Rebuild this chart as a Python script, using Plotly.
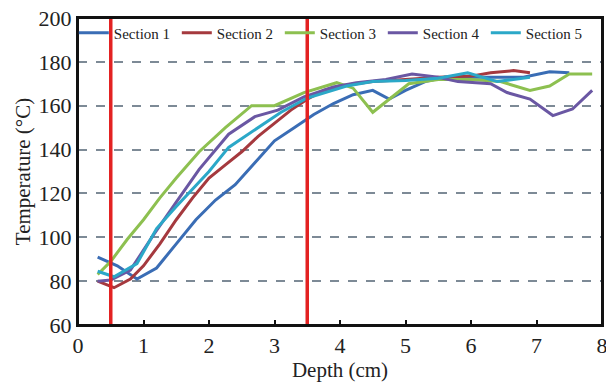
import plotly.graph_objects as go

# Data
x1 = [0.3, 0.6, 0.9, 1.2, 1.5, 1.8, 2.1, 2.4, 2.7, 3.0, 3.3, 3.6, 3.9, 4.2, 4.5, 4.75, 5.0, 5.3, 5.6, 6.0, 6.4, 6.8, 7.2, 7.5]
t1 = [91, 87, 81, 86, 97, 108, 117, 124, 134, 144, 150, 156, 161, 165, 167, 163, 167, 171, 173, 173, 173, 173, 175.5, 175]

x2 = [0.3, 0.55, 0.8, 1.0, 1.25, 1.5, 1.75, 2.0, 2.25, 2.5, 2.75, 3.0, 3.25, 3.5, 3.75, 4.0, 4.5, 5.0, 5.5, 6.0, 6.3, 6.65, 6.9]
t2 = [80, 77, 81, 87, 97, 108, 118, 127, 133, 139, 146, 152, 158, 163, 167, 169, 171, 172, 173, 173.5, 175, 176, 175]

x3 = [0.3, 0.5, 0.75, 1.0, 1.25, 1.5, 1.85, 2.25, 2.65, 3.0, 3.45, 3.95, 4.2, 4.5, 5.05, 5.5, 6.0, 6.45, 6.9, 7.2, 7.5, 7.85]
t3 = [83, 89, 99, 108, 118, 127, 139, 150, 160, 160, 166, 170.5, 168, 157, 170, 172, 172, 171, 167, 169, 174.5, 174.5]

x4 = [0.3, 0.5, 0.8, 1.15, 1.5, 1.85, 2.3, 2.7, 3.05, 3.45, 3.9, 4.25, 4.7, 5.1, 5.5, 5.8, 6.3, 6.55, 6.9, 7.25, 7.55, 7.85]
t4 = [80, 80.5, 85, 101, 116, 131, 147, 155, 158, 164, 168.5, 170.5, 172, 174.5, 173, 171, 170, 166, 163, 155.5, 158.5, 167]

x5 = [0.3, 0.55, 0.9, 1.2, 1.5, 1.75, 2.0, 2.3, 2.7, 3.1, 3.5, 4.1, 4.5, 5.0, 5.5, 5.95, 6.4, 6.9]
t5 = [84.5, 82, 88, 104, 114, 122, 130, 141, 149, 157, 163.5, 169, 171, 171.5, 172.5, 175, 171, 173]

series_names = ["Section 1", "Section 2", "Section 3", "Section 4", "Section 5"]
series_x = [x1, x2, x3, x4, x5]
series_t = [t1, t2, t3, t4, t5]
colors = ["#3a6db5", "#a5393e", "#8dc050", "#6a57a3", "#2ba8c8"]

marker_depths = [0.5, 3.5]

x_ticks = [0, 1, 2, 3, 4, 5, 6, 7, 8]
y_ticks = [60, 80, 100, 120, 140, 160, 180, 200]

fig = go.Figure()
for name, xs, ts, c in zip(series_names, series_x, series_t, colors):
    fig.add_trace(go.Scatter(x=xs, y=ts, mode="lines", name=name,
                             line=dict(color=c, width=3)))

for d in marker_depths:
    fig.add_shape(type="line", xref="x", yref="paper", x0=d, x1=d, y0=0, y1=1,
                  line=dict(color="#e32222", width=3.5), layer="above")

# plot frame
fig.add_shape(type="rect", xref="paper", yref="paper", x0=0, x1=1, y0=0, y1=1,
              line=dict(color="#111", width=2), fillcolor="rgba(0,0,0,0)", layer="above")

ff = "Liberation Serif"
fig.update_layout(
    width=606, height=383,
    margin=dict(l=78, r=4, t=18, b=58, autoexpand=False),
    paper_bgcolor="white", plot_bgcolor="white",
    font=dict(family=ff, size=20, color="#222"),
    showlegend=True,
    legend=dict(orientation="h", x=-0.008, y=1.005, xanchor="left", yanchor="top",
                bgcolor="rgba(0,0,0,0)", font=dict(family=ff, size=15, color="#222"),
                entrywidth=58, entrywidthmode="pixels", tracegroupgap=0),
    xaxis=dict(range=[0, 8], tickvals=x_ticks, ticks="inside", ticklen=5, tickwidth=1.5,
               tickcolor="#111", showgrid=False, zeroline=False, automargin=False,
               ticklabeloverflow="allow",
               showline=True, linecolor="#111", linewidth=2, mirror=True,
               title=dict(text="Depth (cm)", standoff=2, font=dict(family=ff, size=21)),
               tickfont=dict(family=ff, size=22)),
    yaxis=dict(range=[60, 200], tickvals=y_ticks, ticks="", showgrid=True, automargin=False,
               ticklabeloverflow="allow",
               gridcolor="#7d8a96", griddash="dash", gridwidth=1.5, zeroline=False,
               showline=True, linecolor="#111", linewidth=2, mirror=True,
               title=dict(text="Temperature (°C)", standoff=2, font=dict(family=ff, size=21)),
               tickfont=dict(family=ff, size=22)),
)

fig.write_html("out.html", config={"displayModeBar": False},
               post_script="document.body.style.margin='0';document.body.style.overflow='hidden';")
